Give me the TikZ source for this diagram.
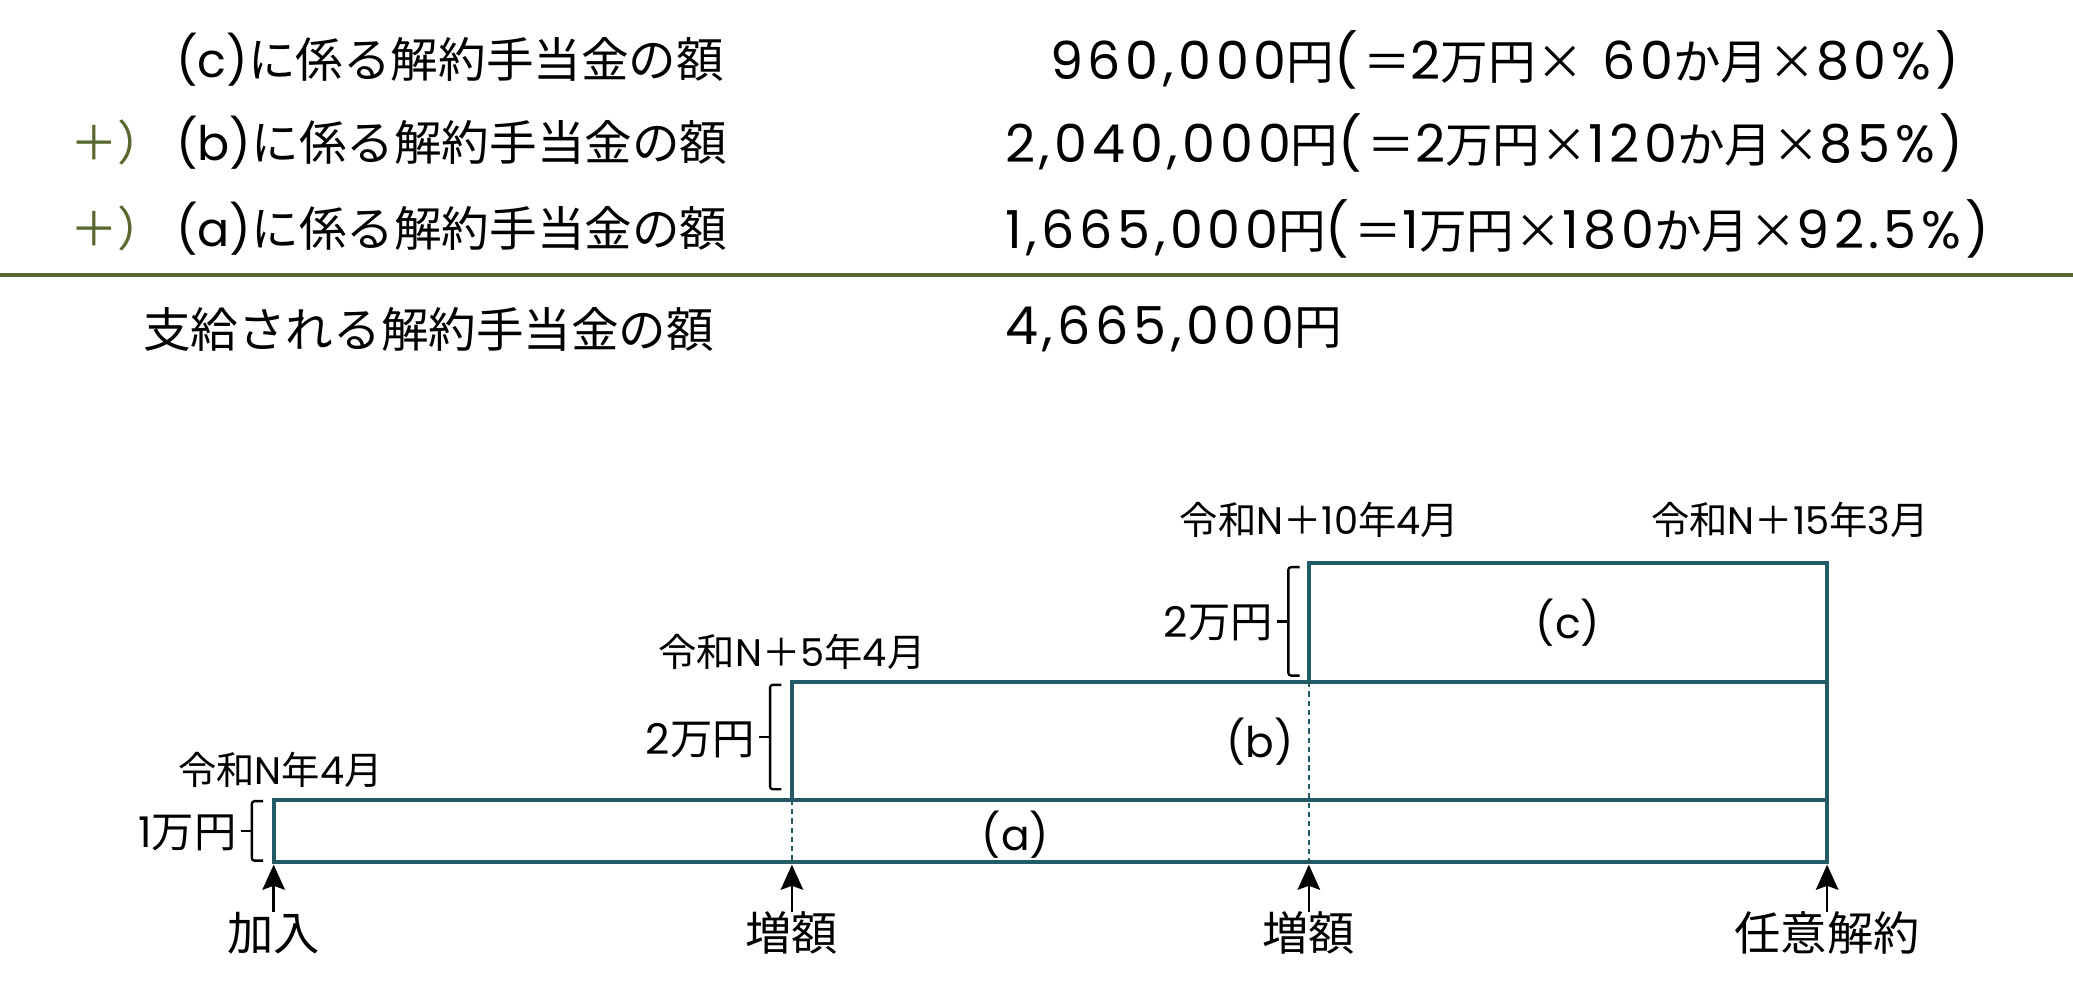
\documentclass[tikz,border=0pt]{standalone}
\usepackage{fontspec}
\setmainfont{Noto Sans CJK JP}
\newfontfamily\latinfont{Poppins}
\newfontfamily\sumfont{Poppins}[Scale=1.1, LetterSpace=9]
\usetikzlibrary{arrows.meta}
\definecolor{bandline}{RGB}{34,90,104}
\definecolor{olivegreen}{RGB}{88,104,46}
\newcommand{\nm}[1]{{\latinfont #1}}
\newcommand{\sn}[1]{{\sumfont #1}}
\newcommand{\op}{\sn{(}\hspace{4pt}}

\begin{document}
\begin{tikzpicture}[x=1pt, y=-1pt,
  row/.style={anchor=west, inner sep=0pt, font=\fontsize{36}{40}\selectfont},
  plus/.style={row, text=olivegreen},
  datelbl/.style={inner sep=0pt, font=\fontsize{29}{32}\selectfont},
  amt/.style={anchor=east, inner sep=0pt, font=\fontsize{32}{36}\selectfont},
  part/.style={inner sep=0pt, font=\fontsize{32}{36}\selectfont},
  evt/.style={inner sep=0pt, font=\fontsize{35}{38}\selectfont},
  band/.style={draw=bandline, line width=3pt},
  guide/.style={draw=bandline, line width=1pt, dash pattern=on 4pt off 3pt},
  arr/.style={-{Stealth[length=19pt, width=17pt, inset=3pt]}, line width=1.8pt},
  brk/.style={line width=1.8pt, rounded corners=2pt}
]
  \useasboundingbox (0,0) rectangle (1568,746);

  % the three parts and their sum
  \node[row] (tc) at (133,45) {\nm{(c)}に係る解約手当金の額};
  \node[plus] (pb) at (53,108) {＋）};
  \node[row] (tb) at (133,108) {\nm{(b)}に係る解約手当金の額};
  \node[plus] (pa) at (53,173) {＋）};
  \node[row] (ta) at (133,173) {\nm{(a)}に係る解約手当金の額};
  \node[row] (vc) at (760,45) {\phantom{\sn{2,}}\sn{960,000}円\op＝\sn{2}万円×\sn{\ 60}か月×\sn{80\%)}};
  \node[row] (vb) at (760,108) {\sn{2,040,000}円\op＝\sn{2}万円×\sn{120}か月×\sn{85\%)}};
  \node[row] (va) at (760,173) {\sn{1,665,000}円\op＝\sn{1}万円×\sn{180}か月×\sn{92\hspace{3pt}.\hspace{3pt}5\%)}};
  \coordinate (rule-l) at (0,208);
  \coordinate (rule-r) at (1568,208);
  \draw[olivegreen, line width=3pt] (rule-l) -- (rule-r);
  \node[row] (tsum) at (108,249) {支給される解約手当金の額};
  \node[row] (vsum) at (760,249) {\sn{4,665,000}円};

  % bands
  \draw[band] (207,605) rectangle (1382,652);
  \draw[band] (599,516) rectangle (1382,605);
  \draw[band] (990,426) rectangle (1382,516);
  \draw[guide] (599,605) -- (599,652);
  \draw[guide] (990,516) -- (990,652);
  \node[part] (la) at (768,631) {\nm{(a)}};
  \node[part] (lb) at (953,561) {\nm{(b)}};
  \node[part] (lc) at (1186,471) {\nm{(c)}};

  % monthly amounts
  \draw[brk] (199,606) -- (190.5,606) -- (190.5,651) -- (199,651);
  \draw[brk] (190.5,628.5) -- (182,628.5);
  \node[amt] (m1) at (179,630) {\nm{1}万円};
  \draw[brk] (591,518) -- (582.5,518) -- (582.5,597) -- (591,597);
  \draw[brk] (582.5,557.5) -- (574,557.5);
  \node[amt] (m2) at (571,560) {\nm{2}万円};
  \draw[brk] (983,429) -- (974.5,429) -- (974.5,511) -- (983,511);
  \draw[brk] (974.5,470) -- (966,470);
  \node[amt] (m3) at (963,471) {\nm{2}万円};

  % dates
  \node[datelbl] (d1) at (212,582) {令和\nm{N}年\nm{4}月};
  \node[datelbl] (d2) at (599,493) {令和\nm{N}＋\nm{5}年\nm{4}月};
  \node[datelbl] (d3) at (998,393) {令和\nm{N}＋\nm{10}年\nm{4}月};
  \node[datelbl] (d4) at (1354,393) {令和\nm{N}＋\nm{15}年\nm{3}月};

  % events
  \node[evt] (ev1) at (207,706) {加入};
  \node[evt] (ev2) at (599,706) {増額};
  \node[evt] (ev3) at (990,706) {増額};
  \node[evt] (ev4) at (1382,706) {任意解約};
  \coordinate (t1) at (207,654);
  \coordinate (t2) at (599,654);
  \coordinate (t3) at (990,654);
  \coordinate (t4) at (1382,654);
  \draw[arr] (ev1) -- (t1);
  \draw[arr] (ev2) -- (t2);
  \draw[arr] (ev3) -- (t3);
  \draw[arr] (ev4) -- (t4);
\end{tikzpicture}
\end{document}
